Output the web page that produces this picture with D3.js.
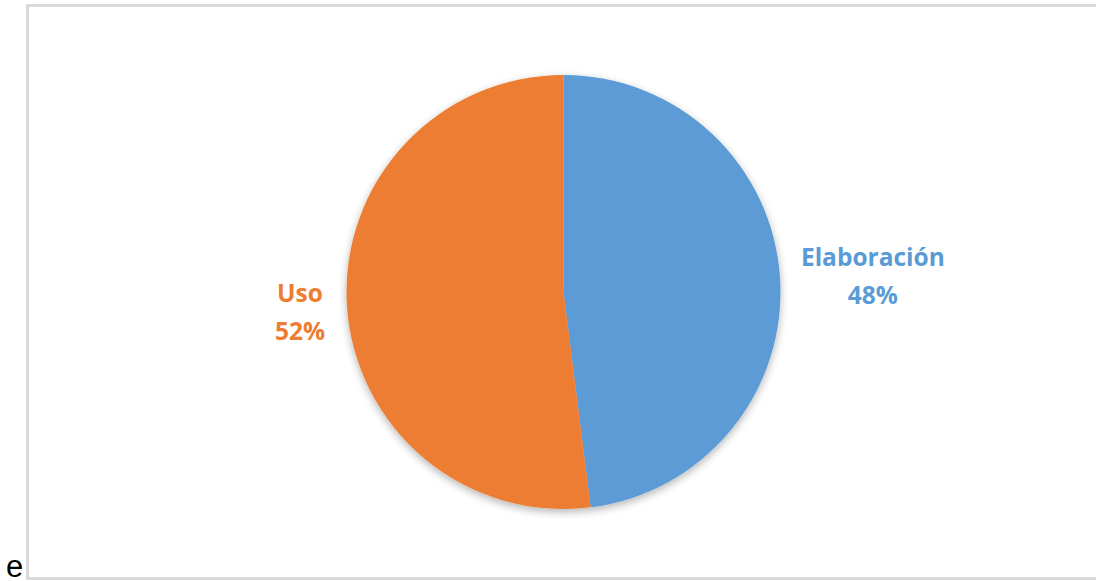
<!DOCTYPE html>
<html>
<head>
<meta charset="utf-8">
<script src="https://cdn.jsdelivr.net/npm/d3@7"></script>
<style>
  body { margin: 0; background: #fff; }
  svg { display: block; }
</style>
</head>
<body>
<script>
var width = 1096, height = 581;

// data
var categories = ["Elaboración", "Uso"];
var shares = [48, 52];
var colors = ["#5B9BD5", "#ED7D31"];

var cx = 563.5, cy = 292, radius = 217;
// distance of each label from the centre
var labelRadius = [310, 264];

var svg = d3.select("body").append("svg")
    .attr("width", width)
    .attr("height", height);

// frame of the chart area (right edge runs off the page)
svg.append("rect")
    .attr("x", 27.5).attr("y", 5.5)
    .attr("width", 1100).attr("height", 573)
    .attr("fill", "none")
    .attr("stroke", "#d9d9d9")
    .attr("stroke-width", 3);

// stray letter under the chart
svg.append("text")
    .attr("x", 6).attr("y", 577)
    .attr("font-family", "Liberation Sans, Arial, sans-serif")
    .attr("font-size", 31)
    .attr("fill", "#000")
    .text("e");

var defs = svg.append("defs");
var shadow = defs.append("filter").attr("id", "shadow")
    .attr("x", "-20%").attr("y", "-20%").attr("width", "140%").attr("height", "140%");
shadow.append("feGaussianBlur").attr("in", "SourceAlpha").attr("stdDeviation", 4);
shadow.append("feOffset").attr("dx", 0).attr("dy", 3).attr("result", "blur");
shadow.append("feComponentTransfer").append("feFuncA").attr("type", "linear").attr("slope", 0.3);
var merge = shadow.append("feMerge");
merge.append("feMergeNode");
merge.append("feMergeNode").attr("in", "SourceGraphic");

var pie = d3.pie().sort(null).value(function(d) { return d; });
var arc = d3.arc().innerRadius(0).outerRadius(radius);

var g = svg.append("g")
    .attr("transform", "translate(" + cx + "," + cy + ")")
    .attr("filter", "url(#shadow)");

var arcs = pie(shares);

g.selectAll("path")
    .data(arcs)
    .enter().append("path")
    .attr("d", arc)
    .attr("fill", function(d, i) { return colors[i]; });

// labels outside the slices
var labels = svg.append("g")
    .attr("transform", "translate(" + cx + "," + cy + ")")
    .attr("font-family", "Open Sans, Lato, sans-serif")
    .attr("font-weight", "bold")
    .attr("font-size", 24.5)
    .attr("text-anchor", "middle");

arcs.forEach(function(d, i) {
    var la = d3.arc().innerRadius(labelRadius[i]).outerRadius(labelRadius[i]);
    var p = la.centroid(d);
    var t = labels.append("text")
        .attr("fill", colors[i])
        .attr("transform", "translate(" + p[0] + "," + p[1] + ")");
    t.append("tspan").attr("x", 0).attr("dy", "-0.25em").text(categories[i]);
    t.append("tspan").attr("x", 0).attr("dy", "1.55em").text(shares[i] + "%");
});
</script>
</body>
</html>
